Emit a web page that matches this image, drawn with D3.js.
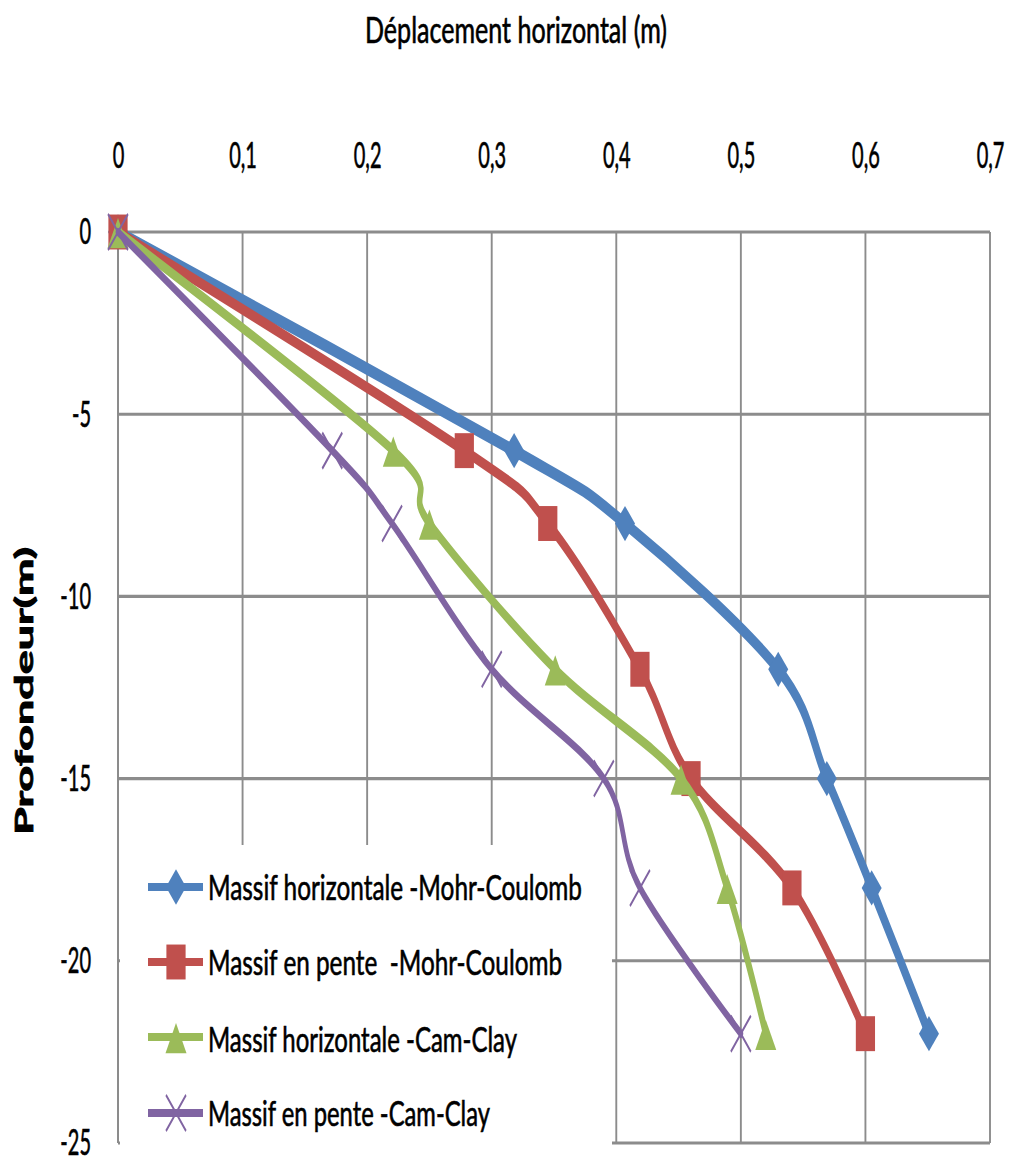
<!DOCTYPE html>
<html>
<head>
<meta charset="utf-8">
<script src="https://cdn.jsdelivr.net/npm/d3@7"></script>
<style>
  html, body { margin: 0; padding: 0; background: #fff; }
  svg { display: block; }
  text { font-family: Lato, "Open Sans", "Liberation Sans", sans-serif; fill: #000; stroke: #000; stroke-width: 0.35px; }
</style>
</head>
<body>
<svg id="chart" width="1009" height="1162"></svg>
<script>
// Depth (m) of each measuring point along the wall
const depths = [0, -6, -8, -12, -15, -18, -22];

// Horizontal displacement (m) for each model
const massifHorizMC   = [0, 0.318, 0.407, 0.530, 0.569, 0.605, 0.651];
const massifPenteMC   = [0, 0.278, 0.345, 0.419, 0.460, 0.541, 0.600];
const massifHorizCC   = [0, 0.221, 0.250, 0.351, 0.452, 0.489, 0.520];
const massifPenteCC   = [0, 0.172, 0.220, 0.300, 0.390, 0.419, 0.500];

const seriesNames = [
  "Massif horizontale -Mohr-Coulomb",
  "Massif en pente  -Mohr-Coulomb",
  "Massif horizontale -Cam-Clay",
  "Massif en pente -Cam-Clay"
];
const seriesColors = ["#4F81BD", "#C0504D", "#9BBB59", "#8064A2"];
const seriesMarkers = ["diamond", "square", "triangle", "cross"];
const seriesWidths = [6.8, 6, 5.6, 4.6];

const xTicks = [0, 0.1, 0.2, 0.3, 0.4, 0.5, 0.6, 0.7];
const xTickLabels = ["0", "0,1", "0,2", "0,3", "0,4", "0,5", "0,6", "0,7"];
const yTicks = [0, -5, -10, -15, -20, -25];
const yTickLabels = ["0", "-5", "-10", "-15", "-20", "-25"];

const xTitle = "Déplacement horizontal (m)";
const yTitle = "Profondeur(m)";

// The whole figure is drawn in a vertically stretched frame
const SY = 1.8;
const svg = d3.select("#chart");
svg.append("rect").attr("width", 1009).attr("height", 1162).attr("fill", "#fff");
const g = svg.append("g").attr("transform", `scale(1,${SY})`);

const x = d3.scaleLinear().domain([0, 0.7]).range([118, 990]);
const y = d3.scaleLinear().domain([0, -25]).range([232 / SY, 1143 / SY]);

// grid
const grid = g.append("g");
grid.selectAll("line.v").data(xTicks).join("line")
  .attr("x1", d => x(d)).attr("x2", d => x(d))
  .attr("y1", y(0)).attr("y2", y(-25))
  .attr("stroke", "#8c8c8c").attr("stroke-width", 1.9);
grid.selectAll("line.h").data(yTicks).join("line")
  .attr("x1", x(0)).attr("x2", x(0.7))
  .attr("y1", d => y(d)).attr("y2", d => y(d))
  .attr("stroke", "#8c8c8c").attr("stroke-width", 1.7);

// legend background hides the grid underneath
g.append("rect")
  .attr("x", 120).attr("y", 845 / SY)
  .attr("width", 492).attr("height", (1152 - 845) / SY)
  .attr("fill", "#fff");
// left axis line stays visible
g.append("line")
  .attr("x1", x(0)).attr("x2", x(0))
  .attr("y1", y(0)).attr("y2", y(-25))
  .attr("stroke", "#8c8c8c").attr("stroke-width", 1.9);

// x axis labels on top
const xAxis = g.append("g")
  .attr("transform", `translate(0,${168 / SY})`)
  .call(d3.axisTop(x).tickValues(xTicks).tickFormat((d, i) => xTickLabels[i]).tickSize(0).tickPadding(0));
xAxis.select(".domain").remove();
xAxis.attr("font-family", null).attr("font-size", null);
xAxis.selectAll("text").attr("y", 0).attr("dy", 0)
  .attr("font-size", 20).attr("fill", "#000");

// y axis labels
const yAxis = g.append("g")
  .attr("transform", `translate(91,0)`)
  .call(d3.axisLeft(y).tickValues(yTicks).tickFormat((d, i) => yTickLabels[i]).tickSize(0).tickPadding(0));
yAxis.select(".domain").remove();
yAxis.attr("font-family", null).attr("font-size", null);
yAxis.selectAll("text").attr("x", 0).attr("dy", "0.32em")
  .attr("font-size", 20).attr("fill", "#000");

// titles
g.append("text")
  .attr("x", 516).attr("y", 43 / SY)
  .attr("text-anchor", "middle")
  .attr("font-size", 20)
  .attr("textLength", 302).attr("lengthAdjust", "spacingAndGlyphs")
  .text(xTitle);

g.append("text")
  .attr("transform", `translate(33,${691 / SY}) rotate(-90)`)
  .attr("text-anchor", "middle")
  .attr("font-size", 24).attr("font-weight", "bold")
  .style("stroke-width", "0.8px")
  .attr("textLength", 160).attr("lengthAdjust", "spacingAndGlyphs")
  .text(yTitle);

// markers, sized in the stretched frame
function drawMarker(sel, type, cx, cy, color) {
  if (type === "diamond") {
    sel.append("path")
      .attr("d", `M${cx},${cy - 9.8}L${cx + 10},${cy}L${cx},${cy + 9.8}L${cx - 10},${cy}Z`)
      .attr("fill", color);
  } else if (type === "square") {
    sel.append("rect")
      .attr("x", cx - 9.6).attr("y", cy - 9.7)
      .attr("width", 19.2).attr("height", 19.4)
      .attr("fill", color);
  } else if (type === "triangle") {
    sel.append("path")
      .attr("d", `M${cx},${cy - 7.8}L${cx + 10.5},${cy + 9}L${cx - 10.5},${cy + 9}Z`)
      .attr("fill", color);
  } else {
    sel.append("path")
      .attr("d", `M${cx - 10},${cy - 10}L${cx + 10},${cy + 10}M${cx + 10},${cy - 10}L${cx - 10},${cy + 10}`)
      .attr("stroke", color).attr("stroke-width", 1.6).attr("fill", "none");
  }
}

const allSeries = [massifHorizMC, massifPenteMC, massifHorizCC, massifPenteCC];
const line = d3.line()
  .x(d => x(d[0])).y(d => y(d[1]))
  .curve(d3.curveCatmullRom.alpha(0));

allSeries.forEach((vals, si) => {
  const pts = vals.map((v, i) => [v, depths[i]]);
  const sg = g.append("g");
  sg.append("path")
    .attr("d", line(pts))
    .attr("fill", "none")
    .attr("stroke", seriesColors[si])
    .attr("stroke-width", seriesWidths[si])
    .attr("stroke-linejoin", "round")
    .attr("stroke-linecap", "round");
  pts.forEach(p => drawMarker(sg, seriesMarkers[si], x(p[0]), y(p[1]), seriesColors[si]));
});

// legend
const legendLineY = [887, 962, 1037, 1113];
const legendTextY = [900, 975, 1052, 1126];
const legendTextLen = [374, 354, 309, 282];
const lg = g.append("g");
seriesNames.forEach((name, i) => {
  const cy = legendLineY[i] / SY;
  lg.append("line")
    .attr("x1", 148).attr("x2", 203).attr("y1", cy).attr("y2", cy)
    .attr("stroke", seriesColors[i]).attr("stroke-width", 4.5);
  drawMarker(lg, seriesMarkers[i], 176, cy, seriesColors[i]);
  lg.append("text")
    .attr("x", 208).attr("y", legendTextY[i] / SY)
    .attr("font-size", 19.4)
    .attr("textLength", legendTextLen[i]).attr("lengthAdjust", "spacingAndGlyphs")
    .style("white-space", "pre")
    .text(name);
});
</script>
</body>
</html>
